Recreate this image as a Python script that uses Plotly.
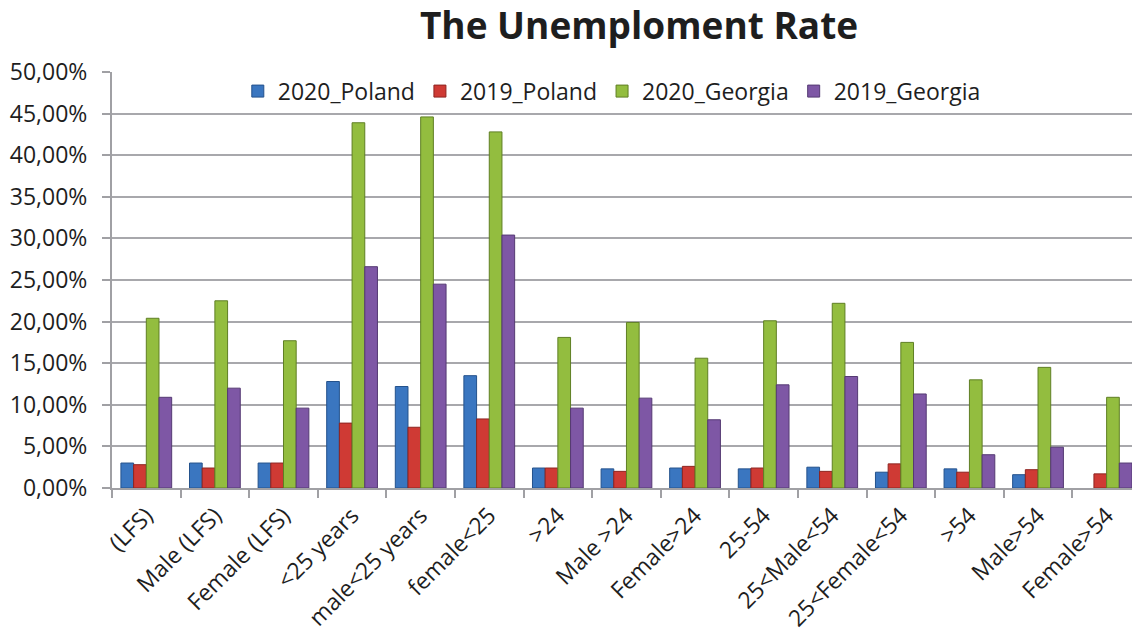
import plotly.graph_objects as go

categories = ["(LFS)", "Male (LFS)", "Female (LFS)", "<25 years", "male<25 years",
              "female<25", ">24", "Male >24", "Female>24", "25-54", "25<Male<54",
              "25<Female<54", ">54", "Male>54", "Female>54"]
poland_2020 = [3.0, 3.0, 3.0, 12.8, 12.2, 13.5, 2.4, 2.3, 2.4, 2.3, 2.5, 1.9, 2.3, 1.6, None]
poland_2019 = [2.8, 2.4, 3.0, 7.8, 7.3, 8.3, 2.4, 2.0, 2.6, 2.4, 2.0, 2.9, 1.9, 2.2, 1.7]
georgia_2020 = [20.4, 22.5, 17.7, 43.9, 44.6, 42.8, 18.1, 19.9, 15.6, 20.1, 22.2, 17.5, 13.0, 14.5, 10.9]
georgia_2019 = [10.9, 12.0, 9.6, 26.6, 24.5, 30.4, 9.6, 10.8, 8.2, 12.4, 13.4, 11.3, 4.0, 4.9, 3.0]
y_ticks = [0, 0.05, 0.10, 0.15, 0.20, 0.25, 0.30, 0.35, 0.40, 0.45, 0.50]

series = [
    ("2020_Poland", poland_2020, "#3A76C0", "#24528C"),
    ("2019_Poland", poland_2019, "#CF3A34", "#8E2420"),
    ("2020_Georgia", georgia_2020, "#93BD3F", "#5F7F24"),
    ("2019_Georgia", georgia_2019, "#7E57A5", "#553A73"),
]

FONT = "Open Sans"
TXT = "#1E1E1E"
fig = go.Figure()
for name, vals, col, edge in series:
    fig.add_trace(go.Bar(
        x=categories,
        y=[v / 100 if v is not None else None for v in vals],
        name=name,
        marker=dict(color=col, line=dict(color=edge, width=1)),
    ))

fig.update_layout(
    width=1132, height=635,
    margin=dict(l=112, r=0, t=72, b=147, autoexpand=False),
    paper_bgcolor="white", plot_bgcolor="white",
    separators=", ",
    barmode="group", bargap=0.26, bargroupgap=0,
    font=dict(family=FONT, size=23, color=TXT),
    title=dict(text="<b>The Unemploment Rate</b>", xref="container", x=0.5645, xanchor="center",
               yref="container", y=0.9583, yanchor="middle",
               font=dict(family=FONT, size=37, color=TXT)),
    legend=dict(orientation="h", x=0.49, xanchor="center", y=0.954, yanchor="middle",
                font=dict(family=FONT, size=23, color=TXT),
                bgcolor="rgba(0,0,0,0)", itemwidth=30, traceorder="normal"),
    showlegend=True,
)
fig.update_xaxes(
    type="category", range=[-0.5, 14.37], automargin=False,
    tickangle=-45, tickson="boundaries", ticks="outside", ticklen=8,
    tickcolor="#A0A0A4", tickwidth=2, ticklabelstandoff=3,
    showline=True, linecolor="#A0A0A4", linewidth=2,
    showgrid=False, tickfont=dict(family=FONT, size=23, color=TXT),
)
fig.update_yaxes(
    range=[0, 0.5], tickvals=y_ticks, tickformat=".2%", automargin=False,
    ticks="outside", ticklen=8, tickcolor="#A0A0A4", tickwidth=2,
    ticklabelstandoff=10,
    showline=True, linecolor="#A0A0A4", linewidth=2,
    showgrid=True, gridcolor="#A8A8AC", gridwidth=2,
    zeroline=False, tickfont=dict(family=FONT, size=23, color=TXT),
)
fig.write_html("out.html", config={"displayModeBar": False},
               post_script="document.body.style.margin='0';")
